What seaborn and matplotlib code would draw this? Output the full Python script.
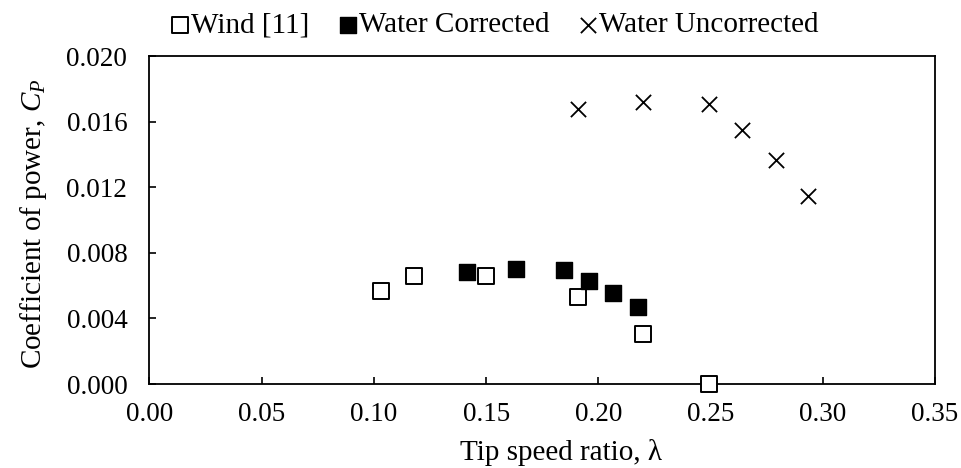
import matplotlib
matplotlib.use("Agg")
import matplotlib.pyplot as plt
import seaborn as sns

wind_x = [0.103, 0.118, 0.150, 0.191, 0.220, 0.2495]
wind_y = [0.00570, 0.00656, 0.00656, 0.00530, 0.00305, 0.0000]

corr_x = [0.1415, 0.1635, 0.1848, 0.1957, 0.2064, 0.2176]
corr_y = [0.00682, 0.00703, 0.00696, 0.00631, 0.00556, 0.00472]

unc_x = [0.191, 0.220, 0.2495, 0.264, 0.279, 0.2935]
unc_y = [0.01674, 0.01717, 0.01705, 0.01548, 0.01365, 0.01145]

xticks = [0.00, 0.05, 0.10, 0.15, 0.20, 0.25, 0.30, 0.35]
yticks = [0.000, 0.004, 0.008, 0.012, 0.016, 0.020]

sns.set_theme(style="white")
plt.rcParams['font.family'] = ['Liberation Serif', 'DejaVu Serif']
plt.rcParams['mathtext.fontset'] = 'custom'
plt.rcParams['mathtext.rm'] = 'Liberation Serif'
plt.rcParams['mathtext.it'] = 'Liberation Serif:italic'

W, H = 962, 468
fig = plt.figure(figsize=(W / 100, H / 100), dpi=100)
left, right, top, bottom = 149.5, 935.0, 56.0, 384.0
ax = fig.add_axes([left / W, 1 - bottom / H, (right - left) / W, (bottom - top) / H])

sns.scatterplot(x=wind_x, y=wind_y, ax=ax, marker='s', s=125, facecolor='white',
                edgecolor='black', linewidth=1.4, label='Wind [11]', zorder=3,
                clip_on=False)
sns.scatterplot(x=corr_x, y=corr_y, ax=ax, marker='s', s=125, color='black',
                edgecolor='black', linewidth=1.0, label='Water Corrected', zorder=3)
sns.scatterplot(x=unc_x, y=unc_y, ax=ax, marker='x', s=120, color='black',
                linewidth=1.3, label='Water Uncorrected', zorder=3)

ax.set_xlim(0, 0.35)
ax.set_ylim(0, 0.020)
ax.set_xticks(xticks)
ax.set_yticks(yticks)
ax.set_xticklabels([f"{v:.2f}" for v in xticks])
ax.set_yticklabels([f"{v:.3f}" for v in yticks])
ax.tick_params(axis='both', direction='in', length=5, width=1.2, colors='black',
               labelsize=19.5, bottom=True, left=True, top=False, right=False)
ax.tick_params(axis='x', pad=13)
ax.tick_params(axis='y', pad=16)
for sp in ax.spines.values():
    sp.set_visible(True)
    sp.set_color('black')
    sp.set_linewidth(1.3)
ax.grid(False)

ax.set_xlabel('Tip speed ratio, λ', fontsize=21, color='black')
ax.set_ylabel('Coefficient of power, $C_P$', fontsize=21, color='black')
ax.xaxis.set_label_coords(0.524, -0.168)
ax.yaxis.set_label_coords(-0.128, 0.49)

leg = ax.legend(loc='center left', bbox_to_anchor=(171 / W, 1 - 25 / H), bbox_transform=fig.transFigure,
                ncol=3, frameon=False, fontsize=21, handletextpad=0.1,
                columnspacing=1.0, borderaxespad=0, borderpad=0, markerscale=1.0,
                handlelength=0.6)
for t in leg.get_texts():
    t.set_color('black')

fig.savefig('out.png', dpi=100)
